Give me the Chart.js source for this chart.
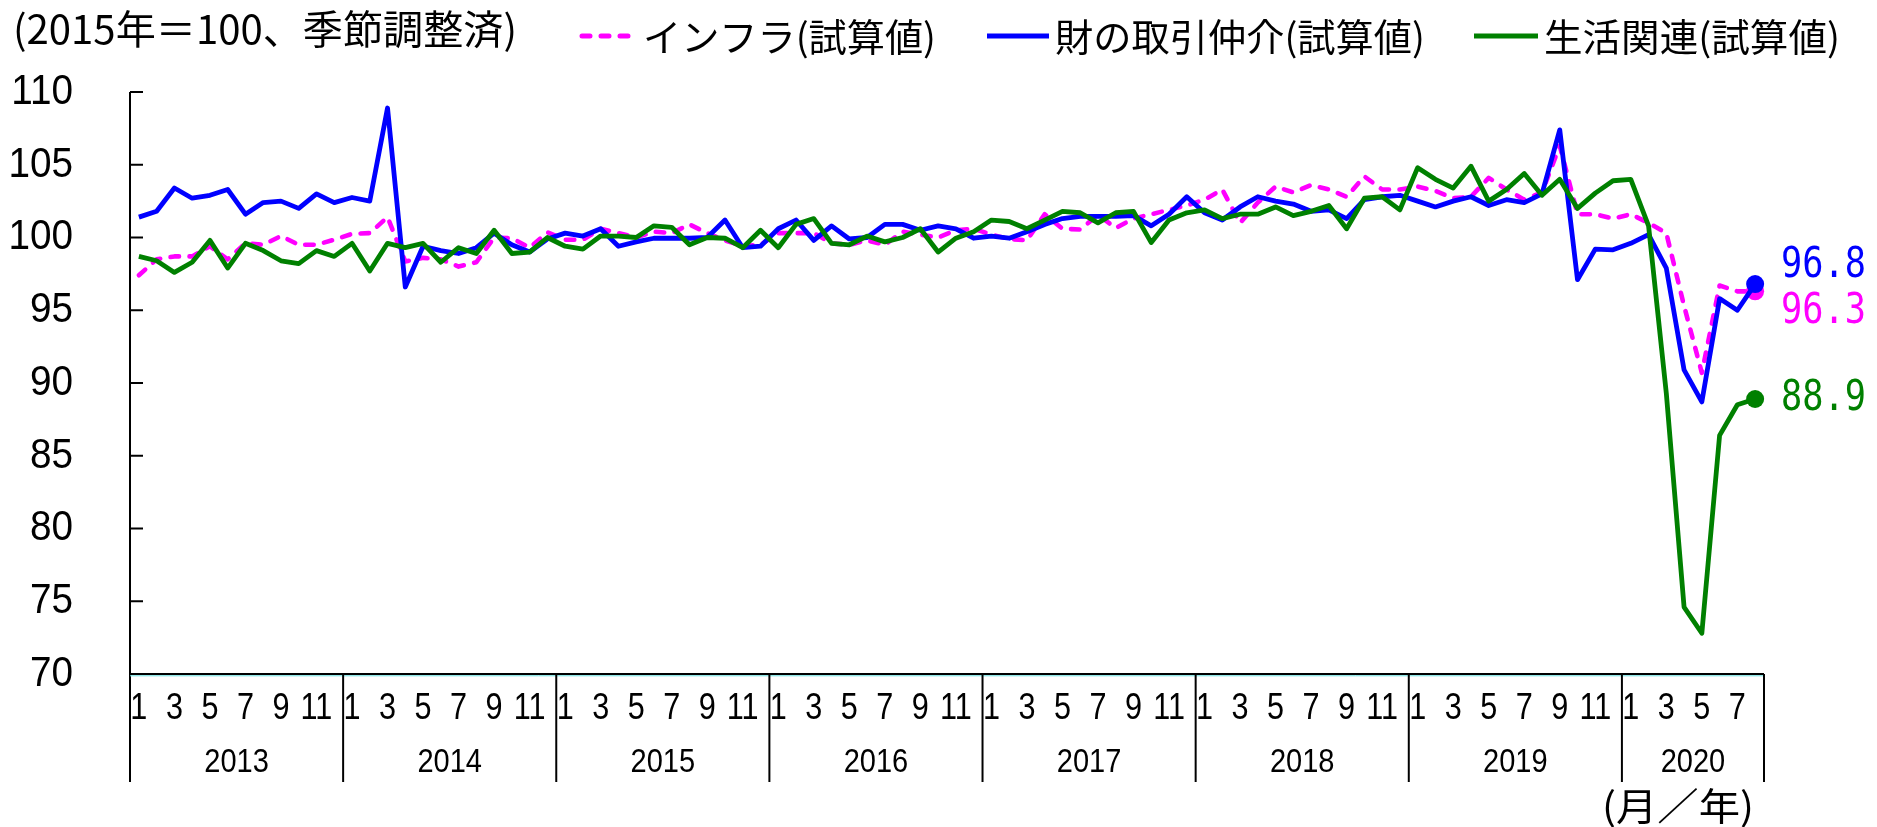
<!DOCTYPE html>
<html>
<head>
<meta charset="utf-8">
<style>
  html, body { margin: 0; padding: 0; background: #fff; overflow: hidden; }
</style>
<script src="https://cdn.jsdelivr.net/npm/chart.js@4.4.1/dist/chart.umd.min.js"></script>
</head>
<body>
<canvas id="chart" width="1877" height="827"></canvas>
<script>
// categories: Jan 2013 .. Aug 2020
const years = ['2013', '2014', '2015', '2016', '2017', '2018', '2019', '2020'];
const lastYearMonths = 8;
const monthTicks = [1, 3, 5, 7, 9, 11];
const yTicks = [70, 75, 80, 85, 90, 95, 100, 105, 110];

const titleText = '(2015年＝100、季節調整済)';
const unitText = '(月／年)';
const seriesNames = ['インフラ(試算値)', '財の取引仲介(試算値)', '生活関連(試算値)'];

// インフラ(試算値)
const infra = [
    97.4, 98.5, 98.7, 98.7, 99.4, 98.5, 99.6, 99.5, 100.1, 99.5, 99.5, 99.85,
    100.25, 100.3, 101.4, 98.35, 98.6, 98.5, 98.0, 98.3, 100.0, 99.95, 99.3, 100.35,
    99.85, 99.85, 100.6, 100.3, 100.0, 100.4, 100.3, 100.9, 100.3, 99.8, 99.4, 99.5,
    100.3, 100.3, 100.3, 99.6, 99.5, 99.8, 99.5, 100.4, 100.2, 100.0, 100.5, 100.6,
    100.2, 99.9, 99.8, 101.6, 100.6, 100.55, 101.55, 100.65, 101.3, 101.6, 101.9, 102.2,
    102.6, 103.3, 101.0, 102.4, 103.5, 103.1, 103.6, 103.3, 102.8, 104.2, 103.3, 103.3,
    103.5, 103.2, 102.7, 102.8, 104.1, 103.3, 102.6, 103.1, 106.3, 101.6, 101.6, 101.3,
    101.6, 101.0, 100.3, 95.3, 90.7, 96.7, 96.3, 96.3
];

// 財の取引仲介(試算値)
const goods = [
    101.4, 101.8, 103.4, 102.7, 102.9, 103.3, 101.6, 102.4, 102.5, 102.0, 103.0, 102.4,
    102.75, 102.5, 108.9, 96.6, 99.4, 99.1, 98.9, 99.3, 100.3, 99.5, 99.0, 99.9,
    100.3, 100.1, 100.6, 99.4, 99.7, 99.95, 99.95, 99.95, 100.0, 101.2, 99.3, 99.4,
    100.6, 101.2, 99.8, 100.8, 99.9, 100.0, 100.9, 100.9, 100.5, 100.8, 100.6, 99.95,
    100.1, 99.95, 100.4, 100.9, 101.3, 101.45, 101.45, 101.45, 101.5, 100.8, 101.6, 102.8,
    101.7, 101.2, 102.1, 102.8, 102.5, 102.3, 101.8, 101.9, 101.3, 102.6, 102.8, 102.9,
    102.5, 102.1, 102.5, 102.8, 102.2, 102.6, 102.4, 103.0, 107.4, 97.1, 99.2, 99.15,
    99.6, 100.2, 97.9, 90.9, 88.7, 95.8, 95.0, 96.8
];

// 生活関連(試算値)
const living = [
    98.7, 98.4, 97.6, 98.3, 99.8, 97.9, 99.6, 99.1, 98.4, 98.2, 99.1, 98.7,
    99.6, 97.7, 99.6, 99.3, 99.6, 98.3, 99.3, 98.9, 100.5, 98.9, 99.0, 100.0,
    99.4, 99.2, 100.1, 100.1, 100.0, 100.8, 100.7, 99.5, 100.0, 99.95, 99.3, 100.5,
    99.3, 100.9, 101.3, 99.6, 99.5, 100.1, 99.7, 100.0, 100.6, 99.0, 99.95, 100.4,
    101.2, 101.1, 100.6, 101.2, 101.8, 101.7, 101.0, 101.7, 101.8, 99.65, 101.2, 101.7,
    101.9, 101.3, 101.6, 101.6, 102.1, 101.5, 101.8, 102.2, 100.6, 102.7, 102.8, 101.9,
    104.8, 104.0, 103.4, 104.9, 102.5, 103.3, 104.4, 102.9, 104.0, 102.0, 103.05, 103.9,
    104.0, 100.8, 89.3, 74.6, 72.8, 86.4, 88.5, 88.9
];

const colors = ['#ff00ff', '#0000ff', '#008000'];

const labels = [];
years.forEach((y, k) => {
    const n = k === years.length - 1 ? lastYearMonths : 12;
    for (let m = 1; m <= n; m++) labels.push(y + '/' + m);
});
const last = labels.length - 1;

const SANS = '"Liberation Sans", Arial, sans-serif';
const JP = '"Noto Sans CJK JP", sans-serif';
const MONO = '"DejaVu Sans Mono", monospace';

function drawText(ctx, s, x, y, font, color, align, sx) {
    ctx.save();
    ctx.font = font;
    ctx.fillStyle = color;
    ctx.textAlign = align;
    ctx.textBaseline = 'middle';
    ctx.translate(x, y);
    ctx.scale(sx, 1);
    ctx.fillText(s, 0, 0);
    ctx.restore();
}

// text squeezed/stretched to a given width, left aligned
function fitText(ctx, s, x, y, w, font, color) {
    ctx.save();
    ctx.font = font;
    const sx = w / ctx.measureText(s).width;
    ctx.restore();
    drawText(ctx, s, x, y, font, color, 'left', sx);
}

function line(ctx, x1, y1, x2, y2) {
    ctx.beginPath();
    ctx.moveTo(x1, y1);
    ctx.lineTo(x2, y2);
    ctx.stroke();
}

// axes, tick labels, year boxes, title, legend
const axisPlugin = {
    id: 'axes',
    beforeDatasetsDraw(chart) {
        const ctx = chart.ctx;
        const xs = chart.scales.x, ys = chart.scales.y;
        const { left, top, bottom } = chart.chartArea;
        const slot = xs.getPixelForValue(1) - xs.getPixelForValue(0);
        const right = xs.getPixelForValue(last) + slot / 2;
        const boxBottom = bottom + 108;

        ctx.save();
        ctx.strokeStyle = '#000';
        ctx.lineWidth = 2;
        line(ctx, left, top, left, boxBottom);

        yTicks.forEach(v => {
            const y = ys.getPixelForValue(v);
            if (v > yTicks[0]) line(ctx, left, y, left + 13, y);
            drawText(ctx, String(v), left - 57, y, '43px ' + SANS, '#000', 'right', 0.9);
        });

        // x axis
        ctx.strokeStyle = '#66dddd';
        ctx.lineWidth = 1;
        line(ctx, left, bottom + 1.8, right, bottom + 1.8);
        ctx.strokeStyle = '#000';
        ctx.lineWidth = 2.2;
        line(ctx, left, bottom, right, bottom);

        let start = 0;
        years.forEach((yr, k) => {
            const n = k === years.length - 1 ? lastYearMonths : 12;
            const end = start + n - 1;
            const xEnd = xs.getPixelForValue(end) + slot / 2;
            ctx.lineWidth = 2;
            line(ctx, xEnd, bottom, xEnd, boxBottom);
            for (let i = start; i <= end; i++) {
                const m = i - start + 1;
                if (monthTicks.includes(m)) {
                    drawText(ctx, String(m), xs.getPixelForValue(i), bottom + 35, '36px ' + SANS, '#000', 'center', 0.85);
                }
            }
            const cx = (xs.getPixelForValue(start) + xs.getPixelForValue(end)) / 2;
            drawText(ctx, yr, cx, bottom + 89, '33px ' + SANS, '#000', 'center', 0.88);
            start = end + 1;
        });

        fitText(ctx, unitText, right - 162, bottom + 132, 152, '38px ' + JP, '#000');

        fitText(ctx, titleText, 13, 29, 504, '40px ' + JP, '#000');
        const legendPos = [[579, 631, 643, 293], [987, 1049, 1055, 370], [1474, 1538, 1544, 296]];
        chart.data.datasets.forEach((ds, d) => {
            const p = legendPos[d];
            const dashed = !!ds.borderDash;
            ctx.strokeStyle = ds.borderColor;
            ctx.lineWidth = 5;
            ctx.lineCap = dashed ? 'round' : 'butt';
            ctx.setLineDash(dashed ? [8, 11] : []);
            line(ctx, p[0] + (dashed ? 3 : 0), 36, p[1] - (dashed ? 3 : 0), 36);
            ctx.setLineDash([]);
            fitText(ctx, ds.label, p[2], 37, p[3], '38px ' + JP, '#000');
        });
        ctx.restore();
    }
};

// value labels next to the latest point
const labelNudge = [20, -18, 0];
const endLabelPlugin = {
    id: 'endLabels',
    afterDatasetsDraw(chart) {
        const ctx = chart.ctx;
        chart.data.datasets.forEach((ds, d) => {
            const pt = chart.getDatasetMeta(d).data[last];
            drawText(ctx, ds.data[last].toFixed(1), pt.x + 26, pt.y + labelNudge[d], '43px ' + MONO, ds.borderColor, 'left', 0.82);
        });
    }
};

const series = [infra, goods, living];
const datasets = series.map((data, d) => ({
    label: seriesNames[d],
    data: data,
    borderColor: colors[d],
    backgroundColor: colors[d],
    pointBackgroundColor: colors[d],
    borderWidth: d === 0 ? 4.6 : 4.8,
    borderDash: d === 0 ? [8.5, 10.5] : undefined,
    borderCapStyle: d === 0 ? 'round' : 'butt',
    borderJoinStyle: 'round',
    pointRadius: c => (c.dataIndex === last ? 9 : 0),
    pointBorderWidth: 0,
    pointHoverRadius: 0,
    order: 3 - d,
    clip: false,
    tension: 0
}));

const ctx = document.getElementById('chart').getContext('2d');
new Chart(ctx, {
    type: 'line',
    data: { labels: labels, datasets: datasets },
    options: {
        responsive: false,
        animation: false,
        devicePixelRatio: 1,
        layout: { padding: { left: 130, right: 113, top: 92, bottom: 153 } },
        scales: {
            x: { type: 'category', offset: true, display: false },
            y: { min: 70, max: 110, display: false }
        },
        plugins: { legend: { display: false }, tooltip: { enabled: false } }
    },
    plugins: [axisPlugin, endLabelPlugin]
});
</script>
</body>
</html>
